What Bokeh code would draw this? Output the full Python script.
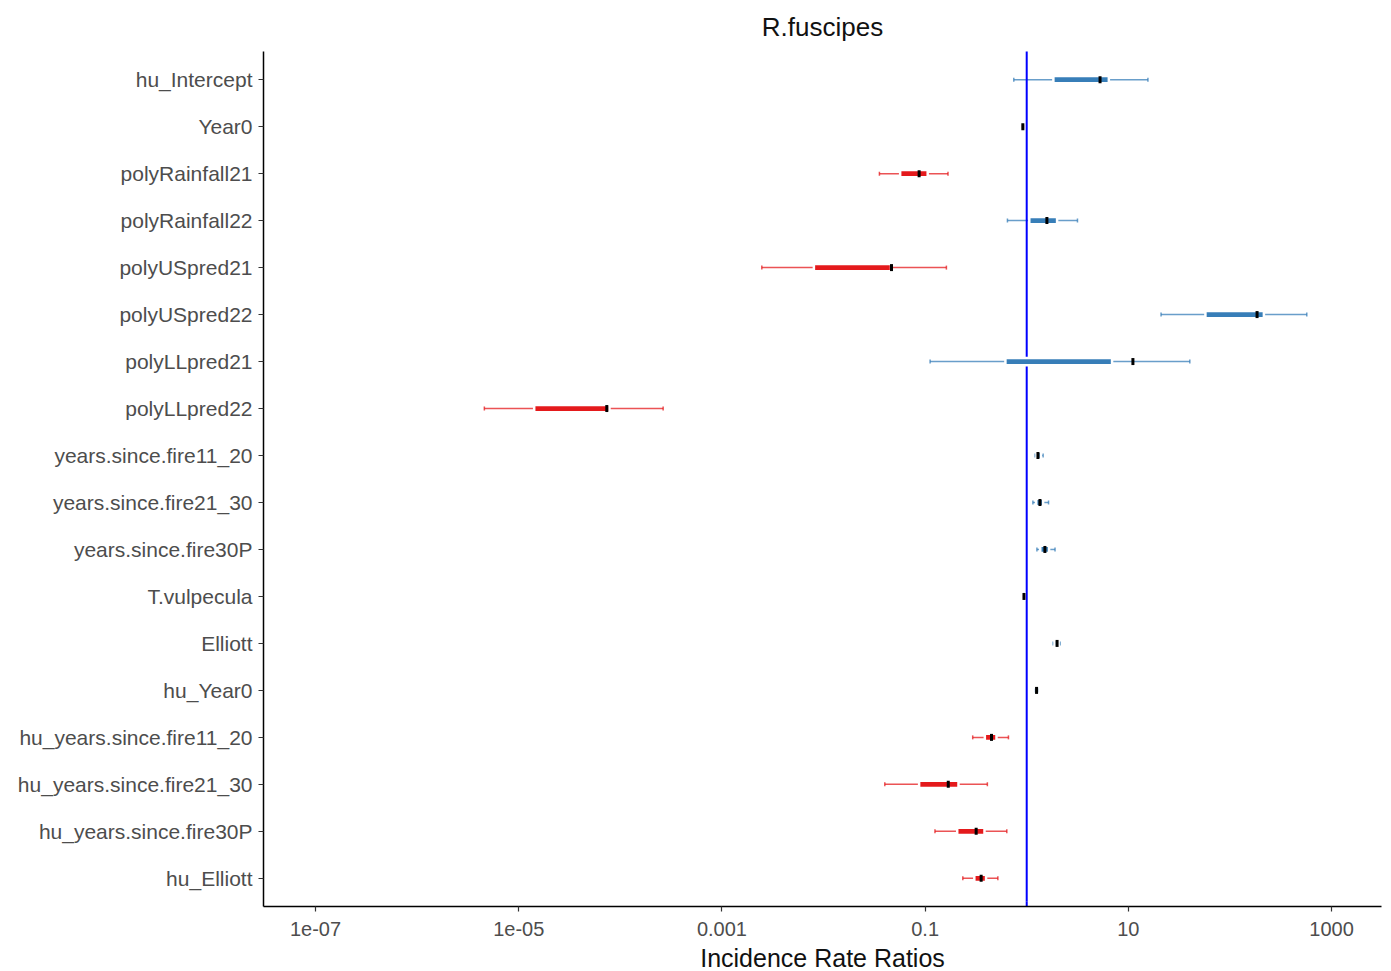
from bokeh.plotting import figure
from bokeh.models import (FactorRange, Range1d, FixedTicker, CustomJSTickFormatter,
                          ColumnDataSource)
from bokeh.embed import file_html
from bokeh.resources import INLINE

# Model terms, top to bottom
terms = ["hu_Intercept", "Year0", "polyRainfall21", "polyRainfall22",
         "polyUSpred21", "polyUSpred22", "polyLLpred21", "polyLLpred22",
         "years.since.fire11_20", "years.since.fire21_30", "years.since.fire30P",
         "T.vulpecula", "Elliott", "hu_Year0", "hu_years.since.fire11_20",
         "hu_years.since.fire21_30", "hu_years.since.fire30P", "hu_Elliott"]

# Incidence rate ratios: point estimate, outer and inner intervals
estimate = [5.27, 0.916, 0.0873, 1.58, 0.0467, 185.0, 11.1, 7.36e-5,
            1.29, 1.35, 1.51, 0.94, 1.99, 1.25, 0.45, 0.169, 0.318, 0.356]
outer_lo = [0.746, 0.905, 0.0355, 0.646, 0.00247, 21.0, 0.112, 4.59e-6,
            1.21, 1.15, 1.26, 0.93, 1.82, 1.22, 0.294, 0.0401, 0.125, 0.235]
outer_hi = [15.6, 0.93, 0.168, 3.16, 0.162, 571.0, 40.3, 2.64e-4,
            1.45, 1.64, 1.90, 0.95, 2.13, 1.28, 0.661, 0.41, 0.637, 0.52]
inner_lo = [1.83, 0.91, 0.0568, 1.06, 0.00804, 57.4, 0.617, 1.42e-5,
            1.25, 1.24, 1.36, 0.935, 1.88, 1.235, 0.387, 0.0873, 0.207, 0.305]
inner_hi = [6.43, 0.925, 0.106, 1.99, 0.0462, 216.0, 6.92, 7.82e-5,
            1.38, 1.45, 1.66, 0.945, 2.06, 1.265, 0.504, 0.213, 0.384, 0.398]

x_ticks = [1e-7, 1e-5, 1e-3, 0.1, 10, 1000]
x_tick_labels = ["1e-07", "1e-05", "0.001", "0.1", "10", "1000"]
x_limits = (10 ** -7.512, 10 ** 3.492)
reference_ratio = 1.0

POS_COLOR = "#377EB8"
NEG_COLOR = "#E41A1C"
FONT = "Liberation Sans"

colors = [POS_COLOR if e > reference_ratio else NEG_COLOR for e in estimate]

src = ColumnDataSource(dict(term=terms, est=estimate, olo=outer_lo, ohi=outer_hi,
                            ilo=inner_lo, ihi=inner_hi, color=colors))

p = figure(
    x_axis_type="log",
    x_range=Range1d(*x_limits),
    y_range=FactorRange(factors=terms[::-1], range_padding=0.1,
                        range_padding_units="absolute"),
    frame_width=1118, frame_height=855,
    min_border_left=263, min_border_right=10, min_border_top=50, min_border_bottom=60,
    output_backend="svg", toolbar_location=None,
    background_fill_color="white", border_fill_color="white",
)
p.outline_line_color = None
p.xgrid.visible = False
p.ygrid.visible = False

# outer interval with small end caps
p.segment(x0="olo", x1="ohi", y0="term", y1="term", source=src,
          line_color="color", line_width=1.5, line_alpha=0.75)
p.rect(x="olo", y="term", width=1.5, height=4, width_units="screen",
       height_units="screen", source=src, fill_color="color", line_color=None,
       fill_alpha=0.75)
p.rect(x="ohi", y="term", width=1.5, height=4, width_units="screen",
       height_units="screen", source=src, fill_color="color", line_color=None,
       fill_alpha=0.75)

# reference line at a ratio of one
p.ray(x=[reference_ratio, reference_ratio], y=[0, 0], length=0, angle=[90, -90],
      angle_units="deg", line_color="#0000FF", line_width=2)

# inner interval
p.hbar(y="term", left="ilo", right="ihi", height=0.155, source=src,
       fill_color="color", line_color="white", line_width=2.5)

# point estimate
p.rect(x="est", y="term", width=3, height=7, width_units="screen",
       height_units="screen", source=src, fill_color="black", line_color=None)

# title
p.title.text = "R.fuscipes"
p.title.align = "center"
p.title.text_font = FONT
p.title.text_font_size = "26px"
p.title.text_font_style = "normal"
p.title.text_color = "#111111"
p.title.standoff = 19

# x axis
xa = p.xaxis[0]
xa.ticker = FixedTicker(ticks=x_ticks, minor_ticks=[])
xa.formatter = CustomJSTickFormatter(
    args=dict(tick_values=x_ticks, tick_labels=x_tick_labels), code="""
    let best = 0, bd = Infinity;
    for (let i = 0; i < tick_values.length; i++) {
        const d = Math.abs(Math.log10(tick) - Math.log10(tick_values[i]));
        if (d < bd) { bd = d; best = i; }
    }
    return tick_labels[best];
""")
xa.axis_label = "Incidence Rate Ratios"
xa.axis_label_text_font = FONT
xa.axis_label_text_font_size = "25px"
xa.axis_label_text_font_style = "normal"
xa.axis_label_text_color = "#111111"
xa.axis_label_standoff = 5

for ax in (p.xaxis[0], p.yaxis[0]):
    ax.axis_line_color = "black"
    ax.axis_line_width = 1.5
    ax.major_tick_line_color = "#333333"
    ax.major_tick_line_width = 1.2
    ax.major_tick_in = 0
    ax.major_tick_out = 5
    ax.minor_tick_line_color = None
    ax.major_label_text_font = FONT
    ax.major_label_text_color = "#4D4D4D"

p.xaxis[0].major_label_text_font_size = "20px"
p.xaxis[0].major_label_standoff = 10
p.yaxis[0].major_label_text_font_size = "21px"
p.yaxis[0].major_label_standoff = 6

open("out.html", "w").write(file_html(p, INLINE))
